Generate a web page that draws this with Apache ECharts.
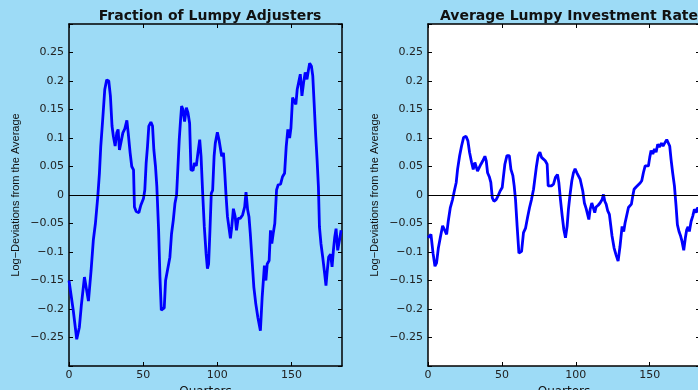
<!DOCTYPE html>
<html>
<head>
<meta charset="utf-8">
<script src="https://cdn.jsdelivr.net/npm/echarts@6/dist/echarts.min.js"></script>
<style>
  html, body { margin: 0; padding: 0; background: #9ddbf6; }
  #main { width: 698px; height: 390px; }
</style>
</head>
<body>
<div id="main"></div>
<script>
// left panel: fraction of lumpy adjusters
var adjQuarters = [
  0, 1.3, 2.9, 5.2, 7, 8.3, 10.4, 11.5, 13.1, 14.9,
  16.4, 17.8, 19.4, 20.5, 21.4, 22.7, 24.1, 25.4, 26.8, 27.9,
  29, 29.9, 31.1, 32.2, 33.1, 34, 35.1, 36.3, 37.6, 39,
  39.9, 41.2, 42.3, 43.5, 44.1, 45.3, 47.1, 48.4, 50.2, 51.1,
  52, 52.9, 53.8, 55.2, 56.3, 57.2, 58.3, 59.2, 60.4, 61.3,
  62.2, 64.2, 65.1, 66.2, 68, 69.1, 70.3, 71.4, 72.5, 73.6,
  74.3, 75.2, 75.9, 76.8, 77.9, 79.1, 80.2, 81.3, 82.2, 83.6,
  84.5, 85.8, 86.9, 88.1, 89, 90.1, 91.2, 92.4, 93.3, 94.1,
  95, 95.9, 96.8, 97.8, 98.6, 100, 101.1, 102.3, 102.9, 104.1,
  105, 105.9, 106.8, 107.7, 108.8, 109.7, 110.8, 112, 112.9, 114,
  115.4, 117, 118.4, 119.3, 120.4, 121.3, 122.2, 123.4, 124.6, 125.9,
  127.3, 129, 130.2, 131.7, 132.7, 133.6, 134.9, 135.8, 136.7, 137.6,
  138.7, 139.9, 141, 142.6, 143.9, 145.3, 146.4, 147.5, 148.7, 149.6,
  150.7, 151.8, 152.9, 153.8, 154.7, 155.9, 157, 158.1, 159.2, 160.4,
  161.3, 162.2, 163.4, 164.3, 165.2, 166.3, 167.2, 168.1, 168.8, 169.8,
  171, 172.3, 173.2, 174.1, 175, 176.3, 177.3, 178.2, 179.1, 180,
  181.1, 182.3, 183.4
];
var adjValues = [
  -0.15, -0.15, -0.203, -0.253, -0.232, -0.194, -0.144, -0.144, -0.186, -0.132,
  -0.079, -0.05, -0.003, 0.038, 0.085, 0.132, 0.185, 0.202, 0.2, 0.174,
  0.121, 0.103, 0.086, 0.109, 0.115, 0.079, 0.082, 0.109, 0.116, 0.131,
  0.109, 0.074, 0.05, 0.044, -0.021, -0.029, -0.031, -0.018, -0.006, 0.009,
  0.056, 0.085, 0.121, 0.128, 0.121, 0.079, 0.05, 0.015, -0.062, -0.144,
  -0.202, -0.198, -0.15, -0.147, -0.109, -0.068, -0.044, -0.015, 0, 0.003,
  0.097, 0.132, 0.156, 0.15, 0.129, 0.153, 0.144, 0.126, 0.044, 0.043,
  0.056, 0.051, 0.074, 0.097, 0.068, 0.003, -0.056, -0.103, -0.129, -0.121,
  -0.062, 0.003, 0.008, 0.068, 0.091, 0.11, 0.097, 0.097, 0.068, 0.074,
  0.038, -0.003, -0.038, -0.039, -0.076, -0.056, -0.024, -0.038, -0.062, -0.041,
  -0.041, -0.035, -0.021, 0.005, -0.026, -0.038, -0.068, -0.071, -0.162, -0.191,
  -0.215, -0.238, -0.179, -0.124, -0.15, -0.121, -0.115, -0.062, -0.085, -0.068,
  -0.05, 0.009, 0.018, 0.019, 0.032, 0.038, 0.085, 0.115, 0.1, 0.118,
  0.171, 0.168, 0.159, 0.185, 0.185, 0.212, 0.174, 0.197, 0.215, 0.203,
  0.218, 0.231, 0.226, 0.209, 0.162, 0.103, 0.062, 0.015, -0.056, -0.085,
  -0.109, -0.138, -0.159, -0.132, -0.109, -0.104, -0.126, -0.097, -0.074, -0.059,
  -0.097, -0.079, -0.062
];

// right panel: average lumpy investment rate
var invQuarters = [
  0, 0.7, 2, 3.4, 4.7, 5.8, 7, 8.3, 9.9, 11,
  12.6, 13.7, 15.1, 16.6, 17.8, 19.1, 20, 21.4, 22.7, 24.1,
  25.7, 27, 28.1, 29.5, 30.6, 31.7, 32.6, 33.5, 34.7, 35.8,
  37.1, 38.5, 39.4, 40.3, 41.6, 42.5, 43.5, 44.6, 46.1, 47.5,
  48.8, 50.2, 51.1, 52, 53.4, 55, 56.1, 57.4, 58.3, 59.2,
  60.3, 61.5, 63.3, 64.6, 66, 67.3, 68.7, 70, 71.4, 72.5,
  73.4, 74.5, 75.7, 76.8, 78.1, 79.3, 80.6, 81.3, 82.2, 83.5,
  84.9, 86.2, 87.6, 88.5, 89.6, 90.8, 91.9, 93, 94.1, 95,
  96.1, 97.3, 98.4, 99.5, 100.7, 101.8, 102.9, 103.8, 104.7, 105.8,
  107, 107.9, 108.8, 109.7, 110.8, 112, 112.8, 113.7, 115.1, 116.4,
  117.8, 118.7, 119.6, 120.5, 121.6, 122.7, 123.6, 124.5, 125.9, 127.2,
  128.6, 129.9, 131.3, 132.4, 133.3, 134.4, 135.6, 136.5, 137.6, 138.5,
  139.4, 140.8, 142.1, 143.5, 144.6, 145.7, 146.9, 148, 149.1, 150,
  150.9, 152.1, 153.2, 154.3, 155.4, 156.5, 157.9, 159, 160.1, 161.5,
  162.6, 163.5, 164.4, 165.5, 166.7, 167.8, 168.7, 169.8, 170.9, 171.8,
  173, 174.1, 175, 175.9, 176.8, 178, 179.1, 180.2, 181.4, 182.5,
  183.5
];
var invValues = [
  -0.075, -0.072, -0.069, -0.102, -0.125, -0.119, -0.093, -0.075, -0.054, -0.052,
  -0.069, -0.046, -0.022, -0.008, 0.007, 0.022, 0.045, 0.069, 0.086, 0.101,
  0.103, 0.095, 0.075, 0.057, 0.045, 0.057, 0.054, 0.042, 0.045, 0.054,
  0.06, 0.068, 0.06, 0.039, 0.031, 0.022, -0.005, -0.011, -0.008, -0.001,
  0.007, 0.013, 0.034, 0.054, 0.069, 0.069, 0.045, 0.034, 0.016, -0.008,
  -0.055, -0.102, -0.099, -0.066, -0.058, -0.04, -0.022, -0.008, 0.01, 0.011,
  0.051, 0.069, 0.075, 0.066, 0.068, 0.06, 0.054, 0.016, 0.013, 0.016,
  0.019, 0.031, 0.036, 0.022, -0.008, -0.037, -0.061, -0.075, -0.055, -0.025,
  0.001, 0.025, 0.039, 0.046, 0.039, 0.039, 0.028, 0.029, 0.007, -0.014,
  -0.024, -0.025, -0.043, -0.025, -0.014, -0.024, -0.031, -0.021, -0.018, -0.014,
  -0.008, 0.001, -0.011, -0.016, -0.028, -0.034, -0.037, -0.072, -0.093, -0.105,
  -0.116, -0.09, -0.055, -0.064, -0.049, -0.046, -0.022, -0.025, -0.016, -0.002,
  0.01, 0.014, 0.016, 0.021, 0.025, 0.039, 0.051, 0.054, 0.051, 0.066,
  0.078, 0.072, 0.081, 0.075, 0.089, 0.084, 0.091, 0.086, 0.091, 0.097,
  0.095, 0.086, 0.063, 0.039, 0.016, -0.019, -0.052, -0.064, -0.072, -0.081,
  -0.097, -0.075, -0.061, -0.056, -0.064, -0.046, -0.037, -0.025, -0.031, -0.022,
  -0.03
];

var titles = ['Fraction of Lumpy Adjusters', 'Average Lumpy Investment Rate'];
var yName = 'Log\u2212Deviations from the Average';
var xName = 'Quarters';

function pairs(xs, ys) {
  return xs.map(function (x, i) { return [x, ys[i]]; });
}

function yLabel(v) {
  if (Math.abs(v) > 0.29) return '';
  var s = String(Math.round(v * 100) / 100);
  return s.replace('-', '\u2212');
}

var wideFont = 'DejaVu Sans';
var lineColor = '#0000ff';

var grids = [
  { left: 69, top: 24, width: 273, bottom: 24, outerBoundsMode: 'none' },
  { left: 428, top: 24, width: 272, bottom: 24, outerBoundsMode: 'none',
    show: true, backgroundColor: '#ffffff', borderWidth: 0 }
];

var xAxes = [], yAxes = [];
for (var g = 0; g < 2; g++) {
  // bottom x axis with labels
  xAxes.push({
    gridIndex: g, type: 'value', min: 0, max: 184, interval: 50,
    name: xName, nameLocation: 'middle', nameGap: 14,
    nameTextStyle: { fontFamily: wideFont, fontSize: 12, color: '#111' },
    axisLine: { onZero: false, lineStyle: { color: '#000', width: 1.5 } },
    axisTick: { inside: true, length: 4, lineStyle: { color: '#000' } },
    axisLabel: { fontFamily: wideFont, fontSize: 11, color: '#222', margin: 4, showMaxLabel: false },
    splitLine: { show: false }
  });
  // top x axis, ticks only
  xAxes.push({
    gridIndex: g, type: 'value', min: 0, max: 184, interval: 50, position: 'top',
    axisLine: { onZero: false, lineStyle: { color: '#000', width: 1.5 } },
    axisTick: { inside: true, length: 4, lineStyle: { color: '#000' } },
    axisLabel: { show: false },
    splitLine: { show: false }
  });
  yAxes.push({
    gridIndex: g, type: 'value', min: -0.3, max: 0.3, interval: 0.05,
    name: yName, nameLocation: 'middle', nameGap: 48,
    nameTextStyle: { fontFamily: 'Liberation Sans', fontSize: 11, color: '#111' },
    axisLine: { show: true, onZero: false, lineStyle: { color: '#000', width: 1.5 } },
    axisTick: { show: true, inside: true, length: 4, lineStyle: { color: '#000' } },
    axisLabel: { fontFamily: wideFont, fontSize: 11, color: '#222', margin: 5, formatter: yLabel },
    splitLine: { show: false }
  });
  yAxes.push({
    gridIndex: g, type: 'value', min: -0.3, max: 0.3, interval: 0.05, position: 'right',
    axisLine: { show: true, onZero: false, lineStyle: { color: '#000', width: 1.5 } },
    axisTick: { show: true, inside: true, length: 4, lineStyle: { color: '#000' } },
    axisLabel: { show: false },
    splitLine: { show: false }
  });
}

function lineSeries(idx, data) {
  return {
    type: 'line', xAxisIndex: idx * 2, yAxisIndex: idx * 2,
    data: data, showSymbol: false, smooth: false,
    lineStyle: { color: lineColor, width: 2.8 },
    markLine: {
      silent: true, symbol: 'none', label: { show: false },
      lineStyle: { color: '#000', width: 1, type: 'solid' },
      data: [{ yAxis: 0 }]
    },
    z: 3
  };
}

var chart = echarts.init(document.getElementById('main'), null, { renderer: 'canvas' });
chart.setOption({
  backgroundColor: '#9ddbf6',
  animation: false,
  title: [
    { text: titles[0], left: 205, top: 4, textAlign: 'center',
      textStyle: { fontFamily: wideFont, fontSize: 14, fontWeight: 'bold', color: '#111' } },
    { text: titles[1], left: 564, top: 4, textAlign: 'center',
      textStyle: { fontFamily: wideFont, fontSize: 14, fontWeight: 'bold', color: '#111' } }
  ],
  grid: grids,
  xAxis: xAxes,
  yAxis: yAxes,
  series: [
    lineSeries(0, pairs(adjQuarters, adjValues)),
    lineSeries(1, pairs(invQuarters, invValues))
  ]
});
</script>
</body>
</html>
